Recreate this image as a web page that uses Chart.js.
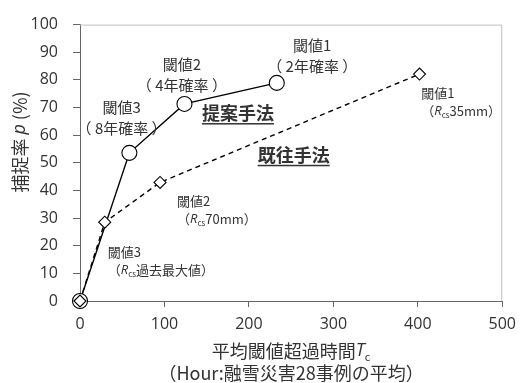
<!DOCTYPE html>
<html>
<head>
<meta charset="utf-8">
<script src="https://cdn.jsdelivr.net/npm/chart.js@4"></script>
<style>
  html, body { margin: 0; padding: 0; background: #fff; }
  #wrap { width: 524px; height: 383px; position: relative; }
</style>
</head>
<body>
<div id="wrap"><canvas id="chart"></canvas></div>
<script>
// proposed method (circles) and existing method (diamonds)
const proposedX = [0, 58.5, 123.7, 233];
const proposedY = [0, 53.6, 71.3, 78.9];
const existingX = [0, 29.3, 94.8, 402];
const existingY = [0, 28.5, 42.9, 82.1];

const xTicks = [0, 100, 200, 300, 400, 500];
const yTicks = [0, 10, 20, 30, 40, 50, 60, 70, 80, 90, 100];

const JP = '"Noto Sans CJK JP", "Noto Sans", sans-serif';
const NUM = '"Open Sans", "Noto Sans CJK JP", sans-serif';
const TXT = "#333";

// text runs: [text, style] where style: n normal, i italic, s subscript, b bold
function drawRuns(ctx, runs, x, y, size, align) {
  const fontOf = (st) => {
    if (st === "s") return `${Math.round(size * 0.62)}px ${JP}`;
    if (st === "i") return `italic ${size}px "Open Sans", ${JP}`;
    if (st === "b") return `bold ${size}px ${JP}`;
    return `${size}px ${JP}`;
  };
  let total = 0;
  runs.forEach(([t, st]) => { ctx.font = fontOf(st); total += ctx.measureText(t).width; });
  let cx = align === "center" ? x - total / 2 : x;
  ctx.textAlign = "left";
  ctx.textBaseline = "middle";
  runs.forEach(([t, st]) => {
    ctx.font = fontOf(st);
    ctx.fillText(t, cx, st === "s" ? y + size * 0.3 : y);
    cx += ctx.measureText(t).width;
  });
  return { left: x - (align === "center" ? total / 2 : 0), width: total };
}

const notes = [
  { x: 275, y: 92.4, align: "center", size: 15, lines: [[["閾値1", "n"]], [["（ 2年確率 ）", "n"]]] },
  { x: 120.6, y: 85.7, align: "center", size: 15, lines: [[["閾値2", "n"]], [["（ 4年確率 ）", "n"]]] },
  { x: 49.2, y: 69.9, align: "center", size: 15, lines: [[["閾値3", "n"]], [["（ 8年確率 ）", "n"]]] },
  { x: 404, y: 75.2, align: "left", size: 13, lines: [[["閾値1", "n"]], [["（", "n"], ["R", "i"], ["cs", "s"], ["35mm）", "n"]]] },
  { x: 114.8, y: 36, align: "left", size: 13, lines: [[["閾値2", "n"]], [["（", "n"], ["R", "i"], ["cs", "s"], ["70mm）", "n"]]] },
  { x: 32.8, y: 17.6, align: "left", size: 13, lines: [[["閾値3", "n"]], [["（", "n"], ["R", "i"], ["cs", "s"], ["過去最大値）", "n"]]] },
];
const methods = [
  { x: 187, y: 68, text: "提案手法" },
  { x: 253, y: 52.9, text: "既往手法" },
];

const annotate = {
  id: "annotate",
  afterDraw(chart) {
    const { ctx, chartArea: a, scales } = chart;
    ctx.save();
    // light frame on top and right
    ctx.strokeStyle = "#bfbfbf";
    ctx.lineWidth = 1;
    ctx.beginPath();
    ctx.moveTo(a.left, a.top + 0.5);
    ctx.lineTo(a.right - 0.5, a.top + 0.5);
    ctx.lineTo(a.right - 0.5, a.bottom);
    ctx.stroke();

    ctx.fillStyle = TXT;
    notes.forEach(n => {
      const px = scales.x.getPixelForValue(n.x);
      const py = scales.y.getPixelForValue(n.y);
      const gap = n.size === 13 ? 18 : 21;
      n.lines.forEach((ln, i) => drawRuns(ctx, ln, px, py + i * gap, n.size, n.align));
    });
    methods.forEach(m => {
      const px = scales.x.getPixelForValue(m.x);
      const py = scales.y.getPixelForValue(m.y);
      const r = drawRuns(ctx, [[m.text, "b"]], px, py, 18, "center");
      ctx.fillRect(r.left, py + 10, r.width, 1.5);
    });

    // axis titles
    const cxm = (a.left + a.right) / 2;
    drawRuns(ctx, [["平均閾値超過時間", "n"], ["T", "i"], ["c", "s"]], cxm, 351, 18, "center");
    drawRuns(ctx, [["（Hour:融雪災害28事例の平均）", "n"]], cxm, 373, 18, "center");

    ctx.translate(20, 142);
    ctx.rotate(-Math.PI / 2);
    drawRuns(ctx, [["捕捉率 ", "n"], ["p", "i"], [" (%)", "n"]], 0, 0, 18, "center");
    ctx.restore();
  }
};

new Chart(document.getElementById("chart"), {
  type: "scatter",
  data: {
    datasets: [
      {
        label: "既往手法",
        data: existingX.map((x, i) => ({ x, y: existingY[i] })),
        showLine: true,
        borderColor: "#000",
        borderWidth: 1.4,
        borderDash: [5, 4],
        pointStyle: "rectRot",
        pointRadius: 6,
        pointBackgroundColor: "#fff",
        pointBorderColor: "#000",
        pointBorderWidth: 1.1,
        clip: false,
      },
      {
        label: "提案手法",
        data: proposedX.map((x, i) => ({ x, y: proposedY[i] })),
        showLine: true,
        borderColor: "#000",
        borderWidth: 1.4,
        pointStyle: "circle",
        pointRadius: 7.5,
        pointBackgroundColor: "#fff",
        pointBorderColor: "#000",
        pointBorderWidth: 1.1,
        clip: false,
      },
    ],
  },
  options: {
    responsive: true,
    maintainAspectRatio: false,
    animation: false,
    events: [],
    layout: { padding: { top: 23, right: 17, left: 0, bottom: 0 } },
    plugins: { legend: { display: false }, tooltip: { enabled: false } },
    scales: {
      x: {
        type: "linear",
        min: 0,
        max: 500,
        afterBuildTicks: (s) => { s.ticks = xTicks.map(v => ({ value: v })); },
        afterFit: (s) => { s.height = 82; },
        border: { color: "#666", width: 1 },
        grid: { drawOnChartArea: false, color: "#666", tickLength: 6 },
        ticks: { color: TXT, padding: 8, maxRotation: 0, font: { family: NUM, size: 16 } },
      },
      y: {
        type: "linear",
        min: 0,
        max: 100,
        afterBuildTicks: (s) => { s.ticks = yTicks.map(v => ({ value: v })); },
        afterFit: (s) => { s.width = 80; },
        border: { color: "#666", width: 1 },
        grid: { drawOnChartArea: false, color: "#666", tickLength: 7 },
        ticks: { color: TXT, padding: 15, font: { family: NUM, size: 16 } },
      },
    },
  },
  plugins: [annotate],
});
</script>
</body>
</html>
